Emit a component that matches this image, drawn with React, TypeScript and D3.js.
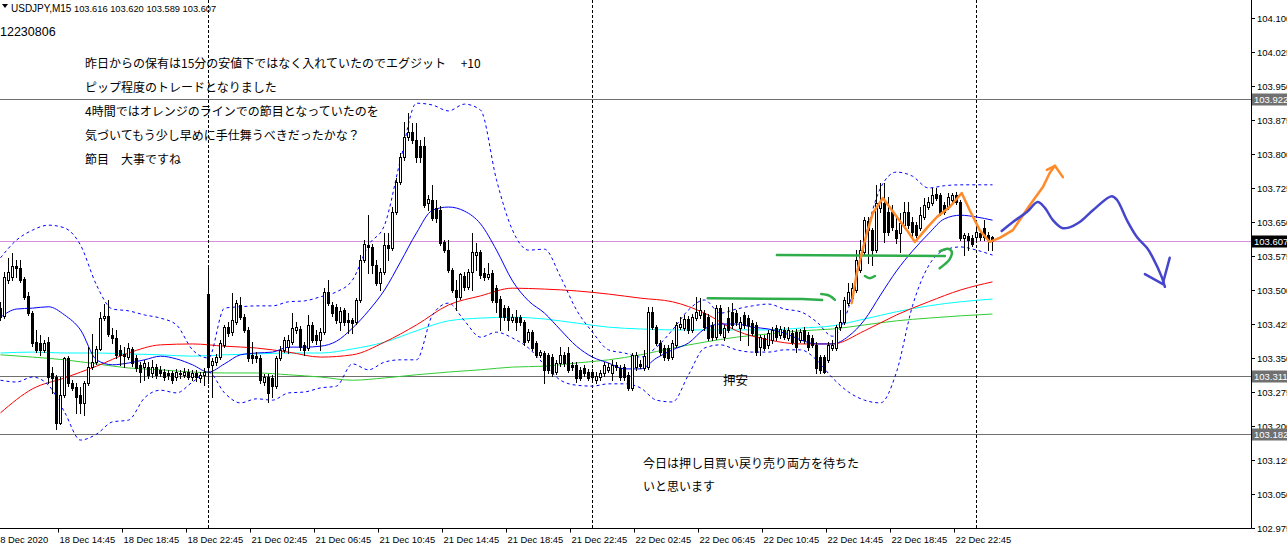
import React from 'react';
import * as d3 from 'd3';

const W = 1287;
const H = 548;

// ---- candle data (USDJPY M15), one row per bar: [open, high, low, close]
const ohlc: number[][] = [
  [103.460,103.474,103.434,103.440],[103.443,103.540,103.438,103.529],[103.522,103.571,103.515,103.540],[103.529,103.582,103.522,103.553],
  [103.553,103.566,103.529,103.548],[103.548,103.566,103.518,103.522],[103.524,103.529,103.480,103.485],[103.487,103.496,103.445,103.449],
  [103.449,103.454,103.376,103.383],[103.385,103.412,103.363,103.368],[103.383,103.401,103.357,103.368],[103.368,103.390,103.363,103.383],
  [103.385,103.396,103.295,103.308],[103.317,103.330,103.273,103.306],[103.308,103.313,103.193,103.207],[103.207,103.308,103.204,103.268],
  [103.268,103.352,103.264,103.350],[103.350,103.354,103.288,103.295],[103.295,103.301,103.279,103.284],[103.286,103.295,103.229,103.264],
  [103.268,103.286,103.229,103.251],[103.251,103.299,103.224,103.295],[103.295,103.374,103.290,103.330],[103.330,103.403,103.326,103.341],
  [103.341,103.376,103.337,103.370],[103.370,103.452,103.368,103.438],[103.438,103.469,103.434,103.443],[103.443,103.478,103.398,103.403],
  [103.401,103.416,103.383,103.394],[103.394,103.412,103.350,103.357],[103.368,103.379,103.335,103.357],[103.359,103.374,103.330,103.354],
  [103.352,103.383,103.348,103.372],[103.370,103.374,103.332,103.339],[103.350,103.357,103.321,103.328],[103.335,103.341,103.297,103.319],
  [103.330,103.346,103.301,103.339],[103.330,103.341,103.306,103.313],[103.317,103.346,103.308,103.330],[103.330,103.337,103.306,103.313],
  [103.324,103.332,103.310,103.317],[103.319,103.326,103.301,103.308],[103.317,103.324,103.304,103.313],[103.317,103.321,103.295,103.301],
  [103.308,103.326,103.301,103.319],[103.317,103.324,103.306,103.315],[103.313,103.328,103.308,103.319],[103.319,103.326,103.304,103.308],
  [103.308,103.324,103.301,103.317],[103.317,103.324,103.299,103.308],[103.306,103.319,103.297,103.313],[103.313,103.328,103.290,103.319],
  [103.491,103.553,103.295,103.330],[103.335,103.350,103.264,103.344],[103.341,103.359,103.335,103.352],[103.352,103.390,103.348,103.383],
  [103.379,103.423,103.374,103.418],[103.418,103.430,103.398,103.405],[103.407,103.493,103.401,103.434],[103.430,103.478,103.425,103.471],
  [103.467,103.485,103.436,103.440],[103.440,103.447,103.407,103.412],[103.412,103.418,103.343,103.350],[103.357,103.385,103.339,103.350],
  [103.354,103.363,103.341,103.350],[103.350,103.357,103.295,103.301],[103.297,103.315,103.290,103.308],[103.308,103.315,103.253,103.273],
  [103.306,103.313,103.264,103.288],[103.288,103.354,103.284,103.350],[103.350,103.376,103.346,103.368],[103.368,103.396,103.363,103.390],
  [103.374,103.401,103.361,103.390],[103.385,103.449,103.381,103.416],[103.412,103.430,103.405,103.418],[103.414,103.421,103.368,103.374],
  [103.379,103.385,103.357,103.368],[103.372,103.445,103.368,103.423],[103.423,103.430,103.385,103.390],[103.401,103.412,103.381,103.390],
  [103.390,103.416,103.368,103.407],[103.407,103.504,103.403,103.496],[103.496,103.522,103.467,103.471],[103.467,103.474,103.443,103.449],
  [103.463,103.469,103.427,103.434],[103.430,103.463,103.412,103.454],[103.456,103.460,103.423,103.430],[103.434,103.449,103.405,103.430],
  [103.434,103.438,103.405,103.427],[103.430,103.482,103.425,103.478],[103.478,103.577,103.474,103.566],[103.566,103.610,103.562,103.601],
  [103.599,103.665,103.538,103.595],[103.595,103.601,103.538,103.555],[103.555,103.566,103.511,103.515],[103.515,103.548,103.500,103.540],
  [103.540,103.626,103.535,103.599],[103.599,103.626,103.566,103.593],[103.593,103.683,103.588,103.672],[103.672,103.747,103.667,103.738],
  [103.738,103.802,103.734,103.793],[103.793,103.871,103.787,103.837],[103.837,103.890,103.831,103.848],[103.848,103.868,103.824,103.831],
  [103.831,103.868,103.782,103.793],[103.818,103.831,103.782,103.793],[103.818,103.837,103.683,103.687],[103.692,103.710,103.676,103.701],
  [103.699,103.732,103.654,103.659],[103.681,103.699,103.650,103.659],[103.676,103.685,103.599,103.604],[103.606,103.610,103.584,103.588],
  [103.588,103.610,103.540,103.544],[103.544,103.548,103.496,103.500],[103.500,103.522,103.456,103.485],[103.485,103.538,103.480,103.535],
  [103.531,103.540,103.500,103.507],[103.507,103.546,103.502,103.540],[103.540,103.626,103.500,103.584],[103.577,103.604,103.544,103.584],
  [103.584,103.588,103.527,103.533],[103.538,103.548,103.522,103.529],[103.529,103.560,103.524,103.535],[103.538,103.544,103.474,103.478],
  [103.504,103.511,103.452,103.474],[103.480,103.487,103.412,103.440],[103.460,103.467,103.434,103.440],[103.460,103.465,103.412,103.434],
  [103.434,103.447,103.430,103.440],[103.440,103.456,103.412,103.430],[103.440,103.445,103.423,103.430],[103.430,103.434,103.379,103.385],
  [103.390,103.414,103.385,103.407],[103.407,103.412,103.368,103.372],[103.383,103.387,103.352,103.357],[103.357,103.368,103.352,103.363],
  [103.361,103.365,103.295,103.324],[103.357,103.361,103.317,103.324],[103.352,103.359,103.310,103.317],[103.319,103.346,103.315,103.339],
  [103.339,103.374,103.332,103.357],[103.357,103.363,103.332,103.339],[103.361,103.374,103.319,103.324],[103.335,103.341,103.324,103.330],
  [103.335,103.341,103.297,103.306],[103.324,103.330,103.301,103.306],[103.328,103.335,103.310,103.317],[103.319,103.326,103.301,103.306],
  [103.319,103.326,103.304,103.308],[103.301,103.319,103.295,103.310],[103.308,103.324,103.301,103.317],[103.317,103.341,103.310,103.335],
  [103.324,103.339,103.319,103.330],[103.317,103.346,103.301,103.335],[103.335,103.341,103.324,103.330],[103.328,103.335,103.301,103.308],
  [103.330,103.337,103.301,103.308],[103.313,103.319,103.279,103.284],[103.284,103.361,103.279,103.357],[103.330,103.363,103.324,103.357],
  [103.337,103.346,103.328,103.332],[103.328,103.368,103.324,103.354],[103.330,103.463,103.326,103.452],[103.452,103.463,103.414,103.418],
  [103.418,103.423,103.379,103.383],[103.383,103.390,103.357,103.363],[103.372,103.379,103.346,103.352],[103.372,103.379,103.346,103.350],
  [103.352,103.390,103.348,103.383],[103.379,103.430,103.374,103.423],[103.418,103.440,103.414,103.425],[103.416,103.445,103.412,103.436],
  [103.436,103.443,103.405,103.412],[103.412,103.447,103.407,103.440],[103.438,103.485,103.434,103.452],[103.445,103.482,103.438,103.456],
  [103.449,103.456,103.412,103.418],[103.440,103.447,103.390,103.394],[103.423,103.430,103.390,103.396],[103.396,103.467,103.392,103.460],
  [103.460,103.467,103.401,103.405],[103.396,103.423,103.390,103.416],[103.438,103.463,103.407,103.412],[103.452,103.471,103.416,103.423],
  [103.449,103.456,103.423,103.430],[103.416,103.440,103.390,103.430],[103.445,103.452,103.416,103.423],[103.438,103.445,103.379,103.423],
  [103.427,103.434,103.401,103.405],[103.423,103.430,103.357,103.363],[103.374,103.401,103.357,103.396],[103.394,103.401,103.368,103.372],
  [103.379,103.412,103.372,103.405],[103.390,103.418,103.383,103.412],[103.416,103.423,103.390,103.396],[103.401,103.421,103.394,103.414],
  [103.412,103.418,103.392,103.396],[103.394,103.418,103.390,103.412],[103.405,103.412,103.381,103.385],[103.407,103.414,103.363,103.374],
  [103.390,103.414,103.385,103.407],[103.412,103.418,103.383,103.390],[103.401,103.407,103.368,103.374],[103.394,103.401,103.374,103.379],
  [103.379,103.385,103.317,103.328],[103.352,103.357,103.317,103.324],[103.352,103.357,103.317,103.319],[103.346,103.385,103.341,103.379],
  [103.372,103.390,103.368,103.379],[103.372,103.423,103.368,103.418],[103.418,103.456,103.412,103.430],[103.430,103.485,103.425,103.478],
  [103.471,103.515,103.467,103.496],[103.482,103.515,103.478,103.504],[103.500,103.588,103.496,103.566],[103.544,103.610,103.540,103.588],
  [103.584,103.661,103.579,103.654],[103.652,103.661,103.560,103.632],[103.632,103.637,103.555,103.588],[103.588,103.732,103.584,103.692],
  [103.681,103.736,103.672,103.694],[103.692,103.736,103.606,103.628],[103.672,103.705,103.621,103.628],[103.672,103.687,103.632,103.639],
  [103.632,103.661,103.604,103.615],[103.626,103.670,103.584,103.648],[103.643,103.694,103.637,103.672],[103.672,103.694,103.637,103.643],
  [103.650,103.661,103.619,103.628],[103.643,103.650,103.617,103.621],[103.637,103.683,103.632,103.665],[103.661,103.703,103.656,103.687],
  [103.683,103.705,103.679,103.694],[103.692,103.725,103.687,103.710],[103.712,103.725,103.699,103.703],[103.710,103.714,103.665,103.670],
  [103.687,103.694,103.667,103.672],[103.683,103.714,103.679,103.705],[103.699,103.714,103.694,103.710],[103.710,103.716,103.690,103.694],
  [103.694,103.699,103.610,103.615],[103.615,103.626,103.577,103.621],[103.619,103.626,103.588,103.610],[103.615,103.621,103.597,103.601],
  [103.617,103.637,103.613,103.628],[103.626,103.632,103.610,103.617],[103.637,103.654,103.610,103.617],[103.621,103.628,103.588,103.610],
  [103.616,103.620,103.589,103.607],
];

// ---- indicators: Bollinger band (every 4 bars) and moving averages (every 8 bars)
const bandStep = 4;
const bbUpper = [103.571,103.610,103.632,103.643,103.637,103.599,103.511,103.458,103.454,103.445,103.438,103.423,103.368,103.350,103.460,103.463,
  103.465,103.465,103.474,103.476,103.485,103.496,103.522,103.599,103.643,103.787,103.912,103.908,103.895,103.910,103.897,103.743,
  103.632,103.588,103.590,103.529,103.456,103.407,103.368,103.361,103.352,103.374,103.412,103.456,103.478,103.449,103.458,103.465,
  103.469,103.458,103.452,103.430,103.398,103.460,103.610,103.725,103.760,103.751,103.725,103.730,103.732,103.732,103.732];
const bbMid = [103.440,103.458,103.460,103.463,103.445,103.412,103.346,103.335,103.339,103.346,103.354,103.348,103.335,103.319,103.337,103.357,
  103.361,103.363,103.374,103.374,103.376,103.387,103.416,103.454,103.500,103.562,103.626,103.676,103.683,103.674,103.646,103.588,
  103.520,103.476,103.449,103.412,103.376,103.352,103.339,103.326,103.326,103.350,103.368,103.383,103.414,103.425,103.425,103.418,
  103.414,103.405,103.390,103.381,103.381,103.398,103.434,103.489,103.542,103.586,103.624,103.657,103.665,103.661,103.654];
const bbLower = [103.301,103.297,103.308,103.290,103.231,103.169,103.182,103.209,103.213,103.262,103.279,103.273,103.297,103.319,103.273,103.251,
  103.260,103.257,103.273,103.275,103.284,103.288,103.337,103.324,103.341,103.346,103.346,103.445,103.471,103.432,103.396,103.407,
  103.394,103.372,103.335,103.301,103.290,103.288,103.293,103.293,103.284,103.257,103.253,103.313,103.372,103.379,103.368,103.363,
  103.363,103.368,103.368,103.346,103.306,103.275,103.257,103.251,103.319,103.465,103.553,103.588,103.595,103.588,103.577];
const maStep = 8;
const maRed = [103.229,103.282,103.306,103.332,103.361,103.379,103.381,103.376,103.372,103.363,103.352,103.357,103.385,103.423,103.467,103.487,
  103.504,103.502,103.498,103.491,103.482,103.474,103.449,103.410,103.390,103.381,103.381,103.410,103.445,103.474,103.500,103.518];
const maCyan = [103.361,103.363,103.361,103.361,103.359,103.357,103.354,103.357,103.359,103.361,103.361,103.370,103.385,103.410,103.432,103.438,
  103.440,103.436,103.427,103.418,103.414,103.412,103.412,103.412,103.412,103.416,103.421,103.436,103.452,103.465,103.474,103.480];
const maGreen = [103.357,103.352,103.346,103.337,103.328,103.324,103.319,103.317,103.317,103.313,103.308,103.301,103.306,103.313,103.319,103.324,
  103.330,103.332,103.339,103.346,103.357,103.372,103.385,103.396,103.403,103.410,103.414,103.423,103.432,103.438,103.443,103.447];

// ---- axes
const priceTicks = [104.100,104.025,103.950,103.875,103.800,103.725,103.650,103.575,103.500,103.425,103.350,103.275,103.200,103.125,103.050,102.975];
const timeLabels = ['18 Dec 2020','18 Dec 14:45','18 Dec 18:45','18 Dec 22:45','21 Dec 02:45','21 Dec 06:45','21 Dec 10:45','21 Dec 14:45',
  '21 Dec 18:45','21 Dec 22:45','22 Dec 02:45','22 Dec 06:45','22 Dec 10:45','22 Dec 14:45','22 Dec 18:45','22 Dec 22:45'];
const timeLabelBars = [0,15,31,47,63,79,95,111,127,143,159,175,191,207,223,239];
const daySeparatorBars = [52,148,244];

// ---- horizontal levels
const levelPrices = [103.922,103.311,103.182];
const currentPrice = 103.607;

// ---- hand drawn annotations: [bar index, price]
const orangeStroke: [number, number][] = [[212.8,103.471],[214.1,103.538],[216.6,103.626],[218.1,103.670],[220.6,103.703],[224.1,103.661],
  [226.6,103.632],[228.6,103.606],[231.6,103.637],[234.1,103.661],[237.3,103.683],[240.3,103.714],[242.3,103.676],[244.8,103.632],
  [247.3,103.606],[249.8,103.615],[253.1,103.632],[257.3,103.687],[260.6,103.727],[262.3,103.758],[263.6,103.774]];
const orangeHead: [number, number][] = [[261.6,103.765],[263.6,103.774],[265.6,103.749]];
const blueStroke: [number, number][] = [[250.3,103.630],[253.1,103.650],[256.6,103.672],[259.3,103.694],[261.1,103.681],[263.1,103.654],
  [265.3,103.637],[266.8,103.637],[269.8,103.650],[273.1,103.676],[277.8,103.707],[279.1,103.699],[281.6,103.654],[284.1,103.617],
  [286.6,103.593],[288.1,103.571],[290.3,103.529],[291.1,103.507]];
const blueHeadA: [number, number][] = [[286.1,103.535],[290.6,103.513]];
const blueHeadB: [number, number][] = [[292.3,103.571],[290.6,103.515]];
const greenStroke1: [number, number][] = [[176.8,103.482],[200.5,103.480],[205.4,103.478]];
const greenHook1: [number, number][] = [[205.2,103.491],[207.3,103.487],[208.6,103.478]];
const greenStroke2: [number, number][] = [[194.1,103.577],[236.1,103.575]];
const greenHook2: [number, number][] = [[234.8,103.585],[236.8,103.591],[237.8,103.585],[237.3,103.568],[236.1,103.557],[234.8,103.548]];
const greenTick: [number, number][] = [[216.1,103.531],[217.3,103.526],[218.6,103.531]];

// ---- text
const headerSymbol = 'USDJPY,M15';
const headerQuote = '103.616 103.620 103.589 103.607';
const stamp = '12230806';
const noteLines = [
  '昨日からの保有は15分の安値下ではなく入れていたのでエグジット　 +10',
  'ピップ程度のトレードとなりました',
  '4時間ではオレンジのラインでの節目となっていたのを',
  '気づいてもう少し早めに手仕舞うべきだったかな？',
  '節目　大事ですね',
];
const bottomNote = ['今日は押し目買い戻り売り両方を待ちた', 'いと思います'];
const levelNote = '押安';

const SMALL = '"Liberation Sans", Arial, sans-serif';
const JP = '"Noto Sans CJK JP", "Noto Sans", sans-serif';

export default function App() {
  const x = d3.scaleLinear().domain([0, 248]).range([0.5, 992.5]);
  const y = d3.scaleLinear().domain([102.975, 104.1]).range([528, 18]);
  const crisp = (v: number) => Math.round(v) + 0.5;
  const plotRight = 1251.5;
  const plotBottom = 528.5;

  const series = (step: number) =>
    d3.line<number>().x((_, k) => x(k * step)).y((d) => y(d)).curve(d3.curveMonotoneX);
  const hand = d3.line<[number, number]>().x((d) => x(d[0])).y((d) => y(d[1])).curve(d3.curveCatmullRom);
  const straight = d3.line<[number, number]>().x((d) => x(d[0])).y((d) => y(d[1]));

  const gray = '#707070';

  return (
    <svg width={W} height={H} style={{ position: 'absolute', left: 0, top: 0, background: '#fff' }}>
      <defs>
        <clipPath id="plot">
          <rect x={0} y={0} width={1251} height={528} />
        </clipPath>
      </defs>

      <g clipPath="url(#plot)">
        {/* levels */}
        {levelPrices.map((p) => (
          <line key={p} x1={0} x2={plotRight} y1={crisp(y(p))} y2={crisp(y(p))} stroke={gray} strokeWidth={1} />
        ))}
        <line x1={0} x2={plotRight} y1={crisp(y(currentPrice))} y2={crisp(y(currentPrice))} stroke="#D98ED9" strokeWidth={1} />

        {/* day separators */}
        {daySeparatorBars.map((b) => (
          <line key={b} x1={x(b)} x2={x(b)} y1={0} y2={plotBottom} stroke="#000" strokeWidth={1} strokeDasharray="3,2" />
        ))}

        {/* moving averages */}
        <path d={series(maStep)(maGreen) || ''} fill="none" stroke="#32CD32" strokeWidth={1} />
        <path d={series(maStep)(maCyan) || ''} fill="none" stroke="#00FFFF" strokeWidth={1} />
        <path d={series(maStep)(maRed) || ''} fill="none" stroke="#FF0000" strokeWidth={1} />

        {/* bollinger */}
        <path d={series(bandStep)(bbUpper) || ''} fill="none" stroke="#0000FF" strokeWidth={1} strokeDasharray="3,3" />
        <path d={series(bandStep)(bbLower) || ''} fill="none" stroke="#0000FF" strokeWidth={1} strokeDasharray="3,3" />
        <path d={series(bandStep)(bbMid) || ''} fill="none" stroke="#0000FF" strokeWidth={1} />

        {/* candles */}
        {ohlc.map((d, i) => {
          const [o, h, l, c] = d;
          const cx = x(i);
          const top = Math.round(y(Math.max(o, c)));
          const bot = Math.round(y(Math.min(o, c)));
          const bull = c >= o;
          return (
            <g key={i}>
              <line x1={cx} x2={cx} y1={Math.round(y(h))} y2={Math.round(y(l)) + 1} stroke="#000" strokeWidth={1} />
              {bull ? (
                <rect x={cx - 1} y={top + 0.5} width={2} height={Math.max(bot - top, 0.01)} fill="#fff" stroke="#000" strokeWidth={1} />
              ) : (
                <rect x={cx - 1.5} y={top} width={3} height={Math.max(bot - top + 1, 1)} fill="#000" />
              )}
            </g>
          );
        })}

        {/* hand drawn annotations */}
        <g fill="none" strokeLinecap="round" strokeLinejoin="round">
          <path d={straight(greenStroke1) || ''} stroke="#2EAD4B" strokeWidth={2.5} />
          <path d={hand(greenHook1) || ''} stroke="#2EAD4B" strokeWidth={2.5} />
          <path d={straight(greenStroke2) || ''} stroke="#2EAD4B" strokeWidth={2.5} />
          <path d={hand(greenHook2) || ''} stroke="#2EAD4B" strokeWidth={2.5} />
          <path d={hand(greenTick) || ''} stroke="#2EAD4B" strokeWidth={2.5} />
          <path d={straight(orangeStroke) || ''} stroke="#FF8A2A" strokeWidth={2.5} />
          <path d={straight(orangeHead) || ''} stroke="#FF8A2A" strokeWidth={2.5} />
          <path d={hand(blueStroke) || ''} stroke="#4646CC" strokeWidth={2.5} />
          <path d={straight(blueHeadA) || ''} stroke="#4646CC" strokeWidth={2.5} />
          <path d={straight(blueHeadB) || ''} stroke="#4646CC" strokeWidth={2.5} />
        </g>

        {/* notes */}
        <g fontFamily={JP} fontSize={12} fill="#000">
          {noteLines.map((t, k) => (
            <text key={k} x={85} y={67.5 + k * 24.2}>{t}</text>
          ))}
          {bottomNote.map((t, k) => (
            <text key={k} x={643} y={467.5 + k * 23}>{t}</text>
          ))}
          <text x={723} y={384.5} fontSize={12.5}>{levelNote}</text>
        </g>
      </g>

      {/* header */}
      <path d="M2,4 L8,4 L5,8 Z" fill="#000" />
      <text x={11} y={12} fontFamily={SMALL} fontSize={10} fill="#000">{headerSymbol}</text>
      <text x={74} y={12} fontFamily={SMALL} fontSize={9.3} fill="#000">{headerQuote}</text>
      <text x={0} y={36} fontFamily={SMALL} fontSize={12.5} fill="#000">{stamp}</text>

      {/* frame */}
      <line x1={plotRight} x2={plotRight} y1={0} y2={plotBottom} stroke="#000" strokeWidth={1} />
      <line x1={0} x2={plotRight} y1={plotBottom} y2={plotBottom} stroke="#000" strokeWidth={1} />

      {/* price axis */}
      <g fontFamily={SMALL} fontSize={9.5} fill="#000">
        {priceTicks.map((p) => {
          const py = crisp(y(p));
          return (
            <g key={p}>
              <line x1={plotRight} x2={1255} y1={py} y2={py} stroke="#000" strokeWidth={1} />
              <text x={1257} y={py + 3.5}>{p.toFixed(3)}</text>
            </g>
          );
        })}
      </g>
      {levelPrices.map((p) => {
        const py = crisp(y(p));
        return (
          <g key={p}>
            <rect x={1252} y={py - 6} width={36} height={12} fill={gray} />
            <text x={1254} y={py + 3.5} fontFamily={SMALL} fontSize={9.5} fill="#fff">{p.toFixed(3)}</text>
          </g>
        );
      })}
      {(() => {
        const py = crisp(y(currentPrice));
        return (
          <g>
            <rect x={1252} y={py - 6} width={36} height={12} fill="#000" />
            <text x={1254} y={py + 3.5} fontFamily={SMALL} fontSize={9.5} fill="#fff">{currentPrice.toFixed(3)}</text>
          </g>
        );
      })()}

      {/* time axis */}
      <g fontFamily={SMALL} fontSize={9.4} fill="#000">
        {timeLabels.map((t, k) => {
          const bx = x(timeLabelBars[k]);
          const first = k === 0;
          return (
            <g key={t}>
              {!first && <line x1={bx - 2} x2={bx - 2} y1={plotBottom} y2={plotBottom + 4} stroke="#000" strokeWidth={1} />}
              <text x={first ? bx - 5.5 : bx - 1} y={543}>{t}</text>
            </g>
          );
        })}
      </g>
    </svg>
  );
}
